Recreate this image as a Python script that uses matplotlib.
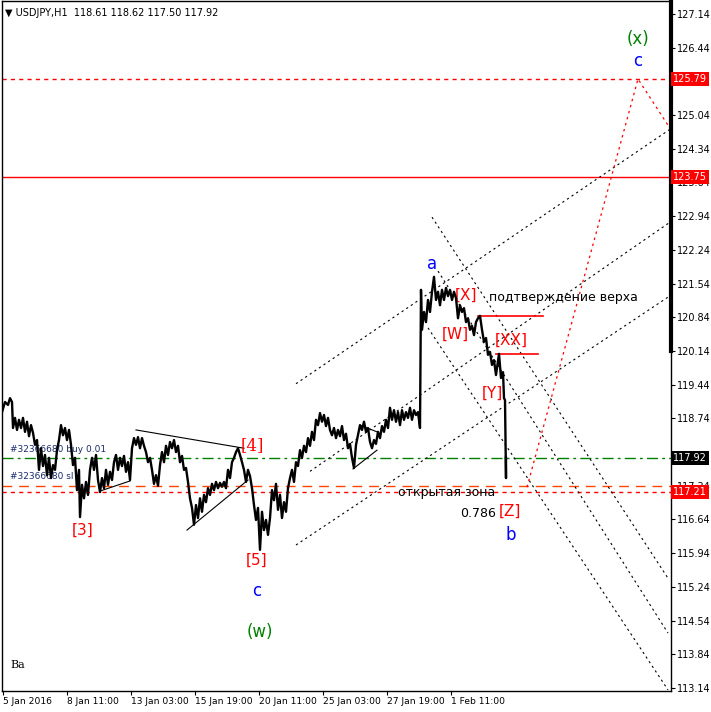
#!/usr/bin/env python3
import matplotlib
matplotlib.use("Agg")
import matplotlib.pyplot as plt
import matplotlib.transforms as mtransforms

# price line (bar index, price)
bars = [2, 5, 8, 10, 12, 13, 15, 17, 19, 21, 23, 25, 27, 29, 31, 33, 35, 37, 39, 41,
        43, 45, 47, 49, 51, 53, 55, 57, 59, 61, 63, 65, 67, 69, 71, 73, 75, 77, 79, 80,
        82, 84, 86, 88, 90, 92, 94, 96, 98, 100, 102, 104, 106, 108, 110, 112, 114, 116, 118, 120,
        122, 124, 126, 128, 130, 132, 134, 136, 138, 140, 142, 144, 146, 148, 150, 152, 154, 156, 158, 160,
        162, 164, 166, 168, 170, 172, 174, 176, 178, 180, 182, 184, 186, 188, 190, 192, 194, 196, 198, 200,
        202, 204, 206, 208, 210, 212, 214, 216, 218, 220, 222, 224, 226, 228, 230, 232, 234, 236, 238, 240,
        242, 244, 246, 248, 250, 252, 254, 256, 258, 260, 262, 264, 266, 268, 270, 272, 274, 276, 278, 280,
        282, 284, 286, 288, 290, 292, 294, 296, 298, 300, 302, 304, 306, 308, 310, 312, 314, 316, 318, 320,
        322, 324, 326, 328, 330, 332, 334, 336, 338, 340, 342, 344, 346, 348, 350, 352, 354, 356, 358, 360,
        362, 364, 366, 368, 370, 372, 374, 376, 378, 380, 382, 384, 386, 388, 390, 392, 394, 396, 398, 400,
        402, 404, 406, 408, 410, 412, 414, 416, 418, 420, 421, 422, 424, 426, 428, 430, 432, 434, 436, 438,
        440, 442, 444, 446, 448, 450, 452, 454, 456, 458, 460, 462, 464, 466, 468, 470, 472, 474, 476, 478,
        480, 482, 484, 486, 488, 490, 492, 494, 496, 497, 499, 501, 503, 504, 505, 506, 506]
prices = [118.87, 119.08, 119.02, 119.16, 119.08, 118.54, 118.75, 118.50, 118.71, 118.54,
          118.75, 118.46, 118.67, 118.37, 118.60, 118.44, 118.19, 118.29, 117.67, 118.12,
          117.75, 117.98, 117.56, 117.92, 117.50, 117.77, 117.67, 118.08, 118.29, 118.60,
          118.39, 118.54, 118.29, 118.50, 118.19, 117.77, 117.92, 117.25, 117.67, 116.69,
          117.36, 117.08, 117.42, 117.15, 117.67, 117.92, 117.67, 117.98, 117.46, 117.21,
          117.50, 117.29, 117.67, 117.36, 117.63, 117.46, 117.83, 117.98, 117.67, 117.92,
          117.75, 117.96, 117.63, 117.83, 117.46, 118.12, 118.33, 118.19, 118.35, 118.12,
          118.33, 118.17, 118.04, 117.83, 117.92, 117.67, 117.38, 117.56, 117.34, 117.77,
          118.04, 117.83, 118.17, 117.98, 118.25, 118.12, 118.29, 118.04, 118.17, 117.83,
          117.96, 117.67, 117.71, 117.42, 117.08, 116.88, 116.53, 116.94, 116.67, 117.08,
          116.80, 117.15, 117.00, 117.29, 117.15, 117.38, 117.25, 117.42, 117.29, 117.40,
          117.32, 117.42, 117.29, 117.67, 117.50, 117.83, 117.92, 118.04, 118.12, 117.98,
          117.83, 117.67, 117.42, 117.67, 117.54, 117.29, 116.94, 116.63, 116.88, 116.01,
          116.80, 116.42, 116.63, 116.32, 116.67, 117.25, 117.04, 117.38, 116.84, 117.15,
          116.67, 117.00, 116.80, 117.29, 117.50, 117.67, 117.42, 117.83, 117.75, 118.08,
          117.92, 118.17, 118.04, 118.33, 118.17, 118.46, 118.29, 118.71, 118.60, 118.85,
          118.67, 118.81, 118.58, 118.75, 118.50, 118.39, 118.54, 118.33, 118.50, 118.37,
          118.58, 118.29, 118.42, 118.12, 118.21, 117.92, 117.71, 118.19, 118.39, 118.60,
          118.50, 118.67, 118.46, 118.54, 118.25, 118.12, 118.29, 118.21, 118.46, 118.33,
          118.58, 118.46, 118.71, 118.54, 118.96, 118.71, 118.91, 118.67, 118.87, 118.60,
          118.91, 118.71, 118.87, 118.75, 118.96, 118.71, 118.91, 118.81, 118.87, 118.54,
          121.41, 120.58, 120.95, 120.74, 121.20, 120.95, 121.37, 121.68, 121.20, 121.37,
          121.09, 121.41, 121.20, 121.45, 121.28, 121.41, 121.20, 121.37, 121.24, 120.82,
          121.09, 120.95, 121.03, 120.74, 120.82, 120.58, 120.66, 120.47, 120.74, 120.82,
          120.87, 120.58, 120.33, 120.41, 120.06, 120.12, 119.85, 119.95, 119.64, 119.79,
          120.08, 119.58, 119.70, 119.16, 119.12, 117.50, 117.92]

x_ticks = [3, 67, 131, 195, 259, 323, 387, 451]
x_labels = ["5 Jan 2016", "8 Jan 11:00", "13 Jan 03:00", "15 Jan 19:00",
            "20 Jan 11:00", "25 Jan 03:00", "27 Jan 19:00", "1 Feb 11:00"]
y_ticks = [127.14, 126.44, 125.74, 125.04, 124.34, 123.64, 122.94, 122.24, 121.54,
           120.84, 120.14, 119.44, 118.74, 118.04, 117.34, 116.64, 115.94, 115.24,
           114.54, 113.84, 113.14]

# horizontal levels
target_level = 125.79
resist_level = 123.75
buy_level = 117.92
sl_level = 117.34
zone_level = 117.21

# channel (rising) and fan (falling) lines: (x0, p0, x1, p1)
channel = [(296, 119.46, 671, 124.76),
           (310, 117.64, 671, 122.83),
           (296, 116.11, 671, 121.30)]
fan = [(432, 122.92, 668, 115.42),
       (438, 121.80, 668, 114.28),
       (428, 120.62, 668, 113.10)]
triangles = [(136, 118.50, 244, 118.12), (187, 116.42, 248, 117.46),
             (100, 117.23, 130, 117.44), (353, 117.69, 377, 118.08),
             (360, 118.60, 377, 118.46)]
red_marks = [(478, 543, 120.87), (496, 538, 120.08)]
proj_x = [527, 638, 668]
proj_p = [117.31, 125.79, 124.83]

fig = plt.figure(figsize=(7.11, 7.12), dpi=100)
ax = fig.add_axes([2 / 711, 21 / 712, 669 / 711, 690 / 712])
ax.set_xlim(2, 671)
ax.set_ylim(113.077, 127.41)

ax.plot(bars, prices, color="black", lw=1.7, zorder=5)

ax.axhline(target_level, color="red", ls=(0, (3, 3)), lw=1)
ax.axhline(resist_level, color="red", lw=1)
ax.axhline(buy_level, color="green", ls=(0, (8, 3, 2, 3)), lw=1)
ax.axhline(sl_level, color="orangered", ls=(0, (7, 5)), lw=1)
ax.axhline(zone_level, color="red", ls=(0, (3, 3)), lw=1)

for x0, p0, x1, p1 in channel + fan:
    ax.plot([x0, x1], [p0, p1], color="black", ls=(0, (2, 3)), lw=0.8)
for x0, p0, x1, p1 in triangles:
    ax.plot([x0, x1], [p0, p1], color="black", lw=0.8)
for x0, x1, p in red_marks:
    ax.plot([x0, x1], [p, p], color="red", lw=1.2)
ax.plot(proj_x, proj_p, color="red", ls=(0, (2, 3)), lw=0.9)

# wave labels
red = "#ff0000"
blue = "#0000ff"
green = "#008000"
ax.text(432, 121.95, "a", color=blue, fontsize=12, ha="center", va="center")
ax.text(638, 126.62, "(x)", color=green, fontsize=12, ha="center", va="center")
ax.text(638, 126.16, "c", color=blue, fontsize=12, ha="center", va="center")
ax.text(466, 121.30, "[X]", color=red, fontsize=11, ha="center", va="center")
ax.text(455, 120.49, "[W]", color=red, fontsize=11, ha="center", va="center")
ax.text(511, 120.37, "[XX]", color=red, fontsize=11, ha="center", va="center")
ax.text(492, 119.27, "[Y]", color=red, fontsize=11, ha="center", va="center")
ax.text(510, 116.82, "[Z]", color=red, fontsize=11, ha="center", va="center")
ax.text(478, 116.76, "0.786", color="black", fontsize=9, ha="center", va="center")
ax.text(511, 116.32, "b", color=blue, fontsize=12, ha="center", va="center")
ax.text(563, 121.26, "подтверждение верха", color="black", fontsize=9,
        ha="center", va="center")
ax.text(447, 117.20, "открытая зона", color="black", fontsize=9,
        ha="center", va="center")
ax.text(252, 118.17, "[4]", color=red, fontsize=12, ha="center", va="center",
        family="DejaVu Serif")
ax.text(83, 116.42, "[3]", color=red, fontsize=11, ha="center", va="center")
ax.text(257, 115.79, "[5]", color=red, fontsize=11, ha="center", va="center")
ax.text(257, 115.15, "c", color=blue, fontsize=12, ha="center", va="center")
ax.text(260, 114.30, "(w)", color=green, fontsize=12, ha="center", va="center")
ax.text(10, buy_level + 0.08, "#32366680 buy 0.01", color="#1a2a6a", fontsize=6.5,
        va="bottom", zorder=1)
ax.text(10, sl_level + 0.1, "#32366680 sl", color="#1a2a6a", fontsize=6.5,
        va="bottom", zorder=1)
ax.text(10, 113.55, "Ba", color="black", fontsize=8, family="DejaVu Serif")
ax.text(5, 127.16, "\u25bc USDJPY,H1  118.61 118.62 117.50 117.92", color="black",
        fontsize=7, va="center")

# axes styling; labels hidden under the level boxes are left out
hidden = [125.74, 118.04]
ax.yaxis.tick_right()
ax.set_yticks(y_ticks)
ax.set_yticklabels(["" if v in hidden else "%.2f" % v for v in y_ticks])
ax.set_xticks(x_ticks)
ax.set_xticklabels(x_labels, ha="left", fontsize=6.6)
ax.tick_params(axis="both", labelsize=7, length=3, width=0.8, pad=1, colors="black")
ax.tick_params(axis="x", labelsize=6.6)
for s in ax.spines.values():
    s.set_linewidth(1)
ax.plot([671, 671], [120.14, 127.41], color="black", lw=3, clip_on=False, zorder=6)

trans = mtransforms.blended_transform_factory(ax.transAxes, ax.transData)
for p, bg in [(target_level, "red"), (resist_level, "red"), (buy_level, "black"),
              (zone_level, "red")]:
    ax.text(1.003, p, "%.2f" % p, transform=trans, color="white", fontsize=7,
            va="center", ha="left",
            bbox=dict(boxstyle="square,pad=0.2", fc=bg, ec="none"), zorder=10)

fig.savefig("out.png", dpi=100)
